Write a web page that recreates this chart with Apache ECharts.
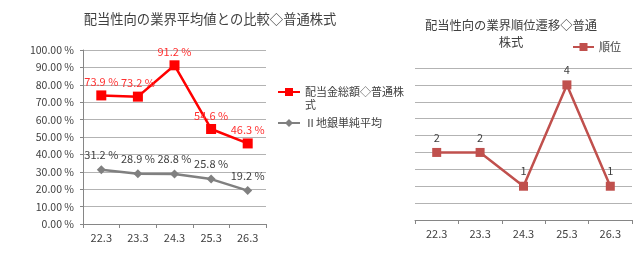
<!DOCTYPE html>
<html><head><meta charset="utf-8">
<script src="https://cdn.jsdelivr.net/npm/echarts@6/dist/echarts.min.js"></script>
<style>html,body{margin:0;padding:0;background:#fff}#c{width:643px;height:265px}</style>
</head><body><div id="c"></div>
<script>
const categories = ['22.3','23.3','24.3','25.3','26.3'];
const payoutRatio = [73.9, 73.2, 91.2, 54.6, 46.3];
const regionalAvg = [31.2, 28.9, 28.8, 25.8, 19.2];
const rankValues = [2, 2, 1, 4, 1];
const leftTitle = '配当性向の業界平均値との比較◇普通株式';
const rightTitle = '配当性向の業界順位遷移◇普通\n株式';
const nameA = '配当金総額◇普通株式';
const nameB = 'Ⅱ地銀単純平均';
const nameR = '順位';

const FONT = '"Noto Sans CJK JP", sans-serif';
const TXT = '#404040';
const GRID = '#b3b3b3';
const chart = echarts.init(document.getElementById('c'), null, {renderer:'canvas'});
chart.setOption({
  animation:false,
  textStyle:{fontFamily:FONT},
  title:[
    {text:leftTitle, left:210, top:12, textAlign:'center', padding:0,
     textStyle:{fontSize:13.3, fontWeight:'normal', color:TXT, fontFamily:FONT}},
    {text:rightTitle, left:511, top:17, textAlign:'center', padding:0,
     textStyle:{fontSize:12.3, fontWeight:'normal', color:TXT, fontFamily:FONT, lineHeight:17}}
  ],
  legend:[
    {data:[nameA], orient:'vertical', left:277, top:72.5, padding:0, itemWidth:22, itemHeight:10,
     formatter:()=> '\n配当金総額◇普通株\n式',
     textStyle:{fontSize:11, color:TXT, fontFamily:FONT, lineHeight:13}},
    {data:[nameB], orient:'vertical', left:277, top:116.5, padding:0, itemWidth:22, itemHeight:10,
     textStyle:{fontSize:11, color:TXT, fontFamily:FONT, lineHeight:13}},
    {data:[nameR], left:572, top:40.5, padding:0, itemWidth:21, itemHeight:10,
     textStyle:{fontSize:11, color:TXT, fontFamily:FONT, lineHeight:13}}
  ],
  grid:[
    {left:83, right:377, top:50, bottom:41},
    {left:415, right:11, top:68, bottom:45}
  ],
  xAxis:[
    {type:'category', gridIndex:0, data:categories, boundaryGap:true,
     axisLine:{lineStyle:{color:'#868686'}},
     axisTick:{show:true, length:4, lineStyle:{color:'#868686'}},
     axisLabel:{fontSize:11, color:TXT, margin:8, fontFamily:FONT}},
    {type:'category', gridIndex:1, data:categories, boundaryGap:true,
     axisLine:{lineStyle:{color:'#868686'}},
     axisTick:{show:true, length:4, lineStyle:{color:'#868686'}},
     axisLabel:{fontSize:11, color:TXT, margin:8, fontFamily:FONT}}
  ],
  yAxis:[
    {type:'value', gridIndex:0, min:0, max:100, interval:10,
     axisLine:{show:true, lineStyle:{color:'#868686'}},
     axisTick:{show:true, length:3, lineStyle:{color:'#868686'}},
     splitLine:{lineStyle:{color:GRID}},
     axisLabel:{fontSize:10.5, color:TXT, margin:9, fontFamily:FONT,
       formatter:v=>v.toFixed(2)+' %'}},
    {type:'value', gridIndex:1, min:0, max:4.5, interval:0.5,
     axisLine:{show:false}, axisTick:{show:false}, axisLabel:{show:false},
     splitLine:{lineStyle:{color:GRID}}}
  ],
  series:[
    {name:nameA, type:'line', xAxisIndex:0, yAxisIndex:0, data:payoutRatio,
     symbol:'rect', symbolSize:10, lineStyle:{color:'#ff0000', width:2.5},
     itemStyle:{color:'#ff0000'},
     label:{show:true, position:'top', distance:3, fontSize:11, color:'#ff3030', fontFamily:FONT,
       formatter:p=>p.value.toFixed(1)+' %'}},
    {name:nameB, type:'line', xAxisIndex:0, yAxisIndex:0, data:regionalAvg,
     symbol:'diamond', symbolSize:9, lineStyle:{color:'#808080', width:2.5},
     itemStyle:{color:'#808080'},
     label:{show:true, position:'top', distance:5, fontSize:11, color:TXT, fontFamily:FONT,
       formatter:p=>p.value.toFixed(1)+' %'}},
    {name:nameR, type:'line', xAxisIndex:1, yAxisIndex:1, data:rankValues,
     symbol:'rect', symbolSize:9, lineStyle:{color:'#c0504d', width:2.5},
     itemStyle:{color:'#c0504d'},
     label:{show:true, position:'top', distance:5, fontSize:11, color:TXT, fontFamily:FONT}}
  ]
});
</script>
</body></html>
